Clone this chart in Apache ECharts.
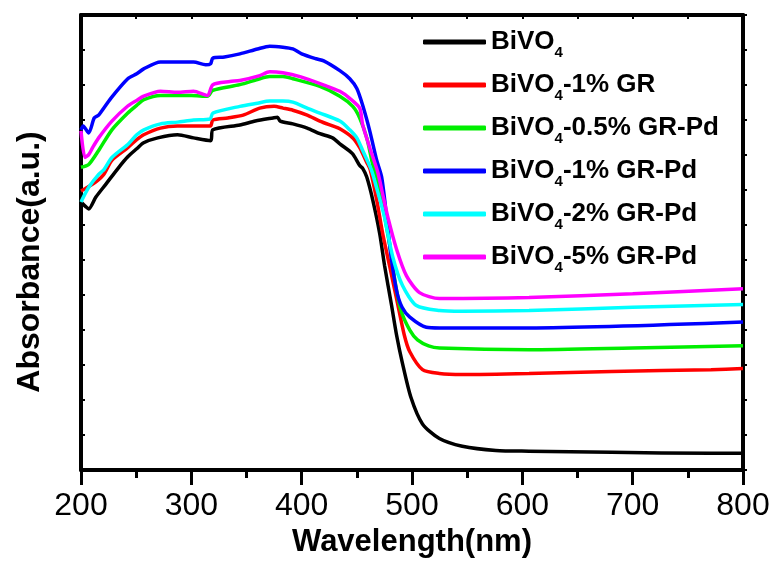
<!DOCTYPE html>
<html>
<head>
<meta charset="utf-8">
<script src="https://cdn.jsdelivr.net/npm/echarts@6/dist/echarts.min.js"></script>
<style>
html,body{margin:0;padding:0;background:#fff;}
#chart{width:773px;height:563px;}
</style>
</head>
<body>
<div id="chart"></div>
<script>
// ---- data ----
const seriesNames = ['BiVO4', 'BiVO4-1% GR', 'BiVO4-0.5% GR-Pd', 'BiVO4-1% GR-Pd', 'BiVO4-2% GR-Pd', 'BiVO4-5% GR-Pd'];
const seriesColors = ['#000000', '#ff0000', '#00ee00', '#0000ff', '#00ffff', '#ff00ff'];
const xTicks = [200, 300, 400, 500, 600, 700, 800];

const bivo4_x = [200,204.5,207,213.5,222.6,234.3,242.4,250.5,256.8,269.5,287.5,302,317.5,319.5,344,358,374,378,380.5,392,405,416.5,428,434.6,446,452.6,455.3,459,464.4,470.7,475.2,481.5,486,491,499,509.5,524.8,545.6,576,606,681,771,800];
const bivo4_y = [0.766,0.752,0.746,0.780,0.817,0.865,0.895,0.918,0.935,0.949,0.958,0.949,0.941,0.972,0.986,0.997,1.006,1.008,0.997,0.989,0.977,0.961,0.949,0.932,0.904,0.870,0.862,0.837,0.772,0.676,0.583,0.470,0.386,0.310,0.208,0.132,0.090,0.068,0.056,0.054,0.051,0.048,0.048];

const gr1_x = [200,206,213.5,220.8,228,242.4,250.5,256.8,272,287.5,302,317.3,319.5,333,347,362,375,383,392,405,416.5,428,434.6,446.3,452.6,459,462,468,473.4,479.7,486,493,498,509.5,524.8,545.6,606,681,771,800];
const gr1_y = [0.797,0.808,0.823,0.845,0.885,0.921,0.944,0.958,0.977,0.983,0.983,0.983,1.000,1.006,1.014,1.034,1.039,1.034,1.028,1.014,0.997,0.983,0.975,0.949,0.921,0.879,0.859,0.772,0.676,0.583,0.490,0.386,0.338,0.287,0.276,0.273,0.276,0.282,0.287,0.290];

const grpd05_x = [200,207,216,228,242.4,250.5,257,272,300,314.6,319.5,344,362,371,383,392,416.5,434.6,446.3,452.6,459,464.4,468,472,476,480,485,490,498,505,515,525,606,700,800];
const grpd05_y = [0.865,0.873,0.913,0.972,1.020,1.042,1.058,1.070,1.070,1.068,1.085,1.101,1.118,1.124,1.124,1.118,1.096,1.068,1.039,1.006,0.949,0.873,0.837,0.780,0.710,0.639,0.532,0.456,0.400,0.372,0.355,0.349,0.344,0.349,0.355];

const grpd1_x = [200,202,207,212,216,227,242.4,250.5,256.8,272,287.5,302,313,317.5,319.5,330,344,360,371,383,392,400,413,420,434.6,443.6,450,455.3,461.7,468,472.5,477,481,486,491,498,513,525,606,800];
const grpd1_y = [0.972,0.983,0.963,1.006,1.014,1.062,1.118,1.132,1.146,1.166,1.166,1.166,1.158,1.161,1.177,1.180,1.189,1.203,1.211,1.208,1.203,1.189,1.175,1.169,1.141,1.118,1.090,1.042,0.969,0.885,0.837,0.724,0.611,0.513,0.465,0.437,0.408,0.406,0.406,0.423];

const grpd2_x = [200,207,216,221,228,242.4,250.5,257,272,287.5,302,317,319.5,344,360,371,383,392,405,416.5,434.6,443.6,450,455.3,463,469,475,482.4,491.4,504,524.8,545.6,606,700,800];
const grpd2_y = [0.766,0.808,0.845,0.859,0.893,0.930,0.958,0.972,0.989,0.994,1.000,1.003,1.020,1.039,1.048,1.054,1.054,1.051,1.034,1.020,0.997,0.972,0.949,0.913,0.859,0.794,0.724,0.611,0.527,0.470,0.456,0.454,0.456,0.465,0.473];

const grpd5_x = [200,203.6,207,210.5,216,228,242.4,250.5,256.8,272,287.5,302,314.6,319.5,335,344,362,371,383,398.5,421,434.6,443.6,452.6,455.3,461.7,469,473,478,486,495,506.8,524.8,606,700,800];
const grpd5_y = [0.969,0.893,0.901,0.921,0.949,0.997,1.040,1.056,1.068,1.082,1.079,1.082,1.070,1.101,1.110,1.113,1.127,1.138,1.135,1.124,1.099,1.082,1.062,1.034,0.986,0.921,0.851,0.794,0.724,0.631,0.555,0.507,0.490,0.493,0.504,0.518];

const xs = [bivo4_x, gr1_x, grpd05_x, grpd1_x, grpd2_x, grpd5_x];
const ys = [bivo4_y, gr1_y, grpd05_y, grpd1_y, grpd2_y, grpd5_y];

// ---- chart ----
const FONT = "'Liberation Sans', Arial, Helvetica, sans-serif";
const chart = echarts.init(document.getElementById('chart'), null, {renderer: 'canvas'});

function pairs(x, y) { return x.map((v, i) => [v, y[i]]); }

function legendFmt(name) {
  const rest = name.slice(5);
  return '{b|BiVO}{s|4}' + (rest ? '{b|' + rest + '}' : '');
}

const series = seriesNames.map((n, i) => ({
  name: n,
  type: 'line',
  data: pairs(xs[i], ys[i]),
  showSymbol: false,
  symbol: 'none',
  smooth: 0.25,
  lineStyle: {color: seriesColors[i], width: 3.5},
  itemStyle: {color: seriesColors[i]},
  animation: false
}));

const option = {
  animation: false,
  backgroundColor: '#ffffff',
  grid: {left: 81, right: 30, top: 15, bottom: 86, containLabel: false},
  legend: {
    orient: 'vertical',
    left: 418,
    top: 24,
    itemGap: 12,
    itemWidth: 63,
    itemHeight: 5,
    icon: 'roundRect',
    data: seriesNames,
    formatter: legendFmt,
    textStyle: {
      color: '#000',
      rich: {
        b: {fontFamily: FONT, fontWeight: 'bold', fontSize: 26, lineHeight: 36, color: '#000'},
        s: {fontFamily: FONT, fontWeight: 'bold', fontSize: 15, lineHeight: 12, verticalAlign: 'bottom', color: '#000'}
      }
    }
  },
  xAxis: [{
    type: 'value',
    position: 'bottom',
    min: 200, max: 800, interval: 100,
    name: 'Wavelength(nm)',
    nameLocation: 'middle',
    nameGap: 50,
    nameTextStyle: {fontFamily: FONT, fontWeight: 'bold', fontSize: 31, color: '#000'},
    axisLine: {show: true, onZero: false, lineStyle: {color: '#000', width: 4}},
    axisTick: {show: true, inside: false, length: 15, lineStyle: {color: '#000', width: 3}},
    minorTick: {show: true, splitNumber: 2, length: 8, lineStyle: {color: '#000', width: 3}},
    axisLabel: {fontFamily: FONT, fontSize: 32, color: '#000', margin: 20,
      formatter: v => xTicks.includes(v) ? String(v) : ''},
    splitLine: {show: false}
  }, {
    type: 'value',
    position: 'top',
    min: 200, max: 800, interval: 50,
    axisLine: {show: true, onZero: false, lineStyle: {color: '#000', width: 4}},
    axisTick: {show: true, inside: true, length: 4, lineStyle: {color: '#000', width: 2}},
    axisLabel: {show: false},
    splitLine: {show: false}
  }],
  yAxis: [{
    type: 'value',
    position: 'left',
    min: 0, max: 1.3, interval: 0.1,
    axisLine: {show: true, onZero: false, lineStyle: {color: '#000', width: 4}},
    axisTick: {show: true, inside: true, length: 4, lineStyle: {color: '#000', width: 2}},
    axisLabel: {show: false},
    splitLine: {show: false}
  }, {
    type: 'value',
    position: 'right',
    min: 0, max: 1.3, interval: 0.1,
    axisLine: {show: true, onZero: false, lineStyle: {color: '#000', width: 4}},
    axisTick: {show: true, inside: false, length: 4, lineStyle: {color: '#000', width: 2}},
    axisLabel: {show: false},
    splitLine: {show: false}
  }],
  graphic: [{
    type: 'text',
    x: 30, y: 262,
    rotation: Math.PI / 2,
    style: {
      text: 'Absorbance(a.u.)',
      font: "bold 32px 'Liberation Sans', Arial, sans-serif",
      fill: '#000',
      align: 'center',
      verticalAlign: 'middle'
    }
  }],
  series: series
};
chart.setOption(option);
</script>
</body>
</html>
